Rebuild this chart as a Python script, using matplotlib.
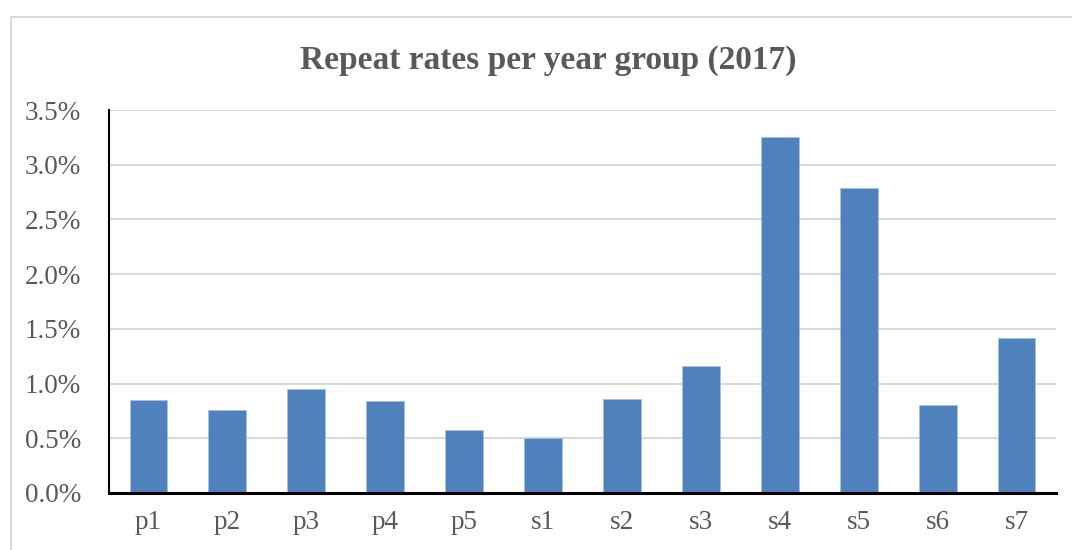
import matplotlib
matplotlib.use("Agg")
import matplotlib.pyplot as plt
from matplotlib.patches import Rectangle
from matplotlib.ticker import FuncFormatter

categories = ["p1", "p2", "p3", "p4", "p5", "s1", "s2", "s3", "s4", "s5", "s6", "s7"]
repeat_rates = [0.85, 0.76, 0.95, 0.84, 0.58, 0.50, 0.86, 1.16, 3.25, 2.79, 0.80, 1.42]
y_ticks = [0.0, 0.5, 1.0, 1.5, 2.0, 2.5, 3.0, 3.5]
title = "Repeat rates per year group (2017)"

W, H = 1072, 550
fig = plt.figure(figsize=(W / 100, H / 100), dpi=100)
fig.patch.set_facecolor("white")

# chart-area border (light gray), extends past right/bottom edge
fig.patches.append(Rectangle((11 / W, -0.2), 1.2, 1.2 - 17 / H,
                             transform=fig.transFigure, fill=False,
                             edgecolor="#D9D9D9", linewidth=1.5, clip_on=False))

ax = fig.add_axes([109 / W, 1 - 493 / H, (1056 - 109) / W, (493 - 110) / H])
x = list(range(len(categories)))
ax.bar(x, repeat_rates, width=0.48, color="#4F81BD", edgecolor="#A9C1E0",
       linewidth=0.6, zorder=3)
ax.set_xlim(-0.5, len(categories) - 0.5)
ax.set_ylim(0, 3.5)
ax.set_yticks(y_ticks)
ax.yaxis.set_major_formatter(FuncFormatter(lambda v, p: f"{v:.1f}%"))
ax.set_xticks(x)
ax.set_xticklabels(categories)

ax.grid(axis="y", color="#D9D9D9", linewidth=1.5, zorder=0)
ax.set_axisbelow(True)
for s in ["top", "right"]:
    ax.spines[s].set_visible(False)
ax.spines["left"].set_color("black")
ax.spines["left"].set_linewidth(1.5)
ax.spines["bottom"].set_color("black")
ax.spines["bottom"].set_linewidth(2.2)
ax.spines["bottom"].set_zorder(4)

font = "Liberation Serif"
ax.tick_params(axis="both", length=0, labelcolor="#595959", labelsize=19.5)
ax.tick_params(axis="y", pad=20)
ax.tick_params(axis="x", pad=12)
for lab in ax.get_xticklabels() + ax.get_yticklabels():
    lab.set_fontfamily(font)

fig.text(548 / W, 1 - 60 / H, title, ha="center", va="center",
         fontsize=24, fontweight="bold", color="#595959", fontfamily=font)

fig.savefig("out.png", dpi=100, facecolor="white")
